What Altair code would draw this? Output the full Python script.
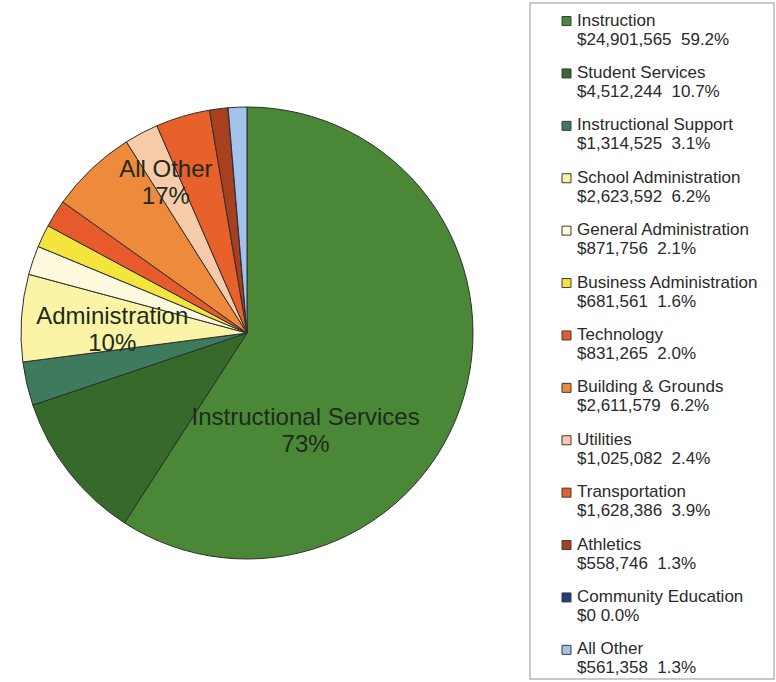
import math
import altair as alt
import pandas as pd

# ---------------- data ----------------
CATEGORIES = [
    "Instruction", "Student Services", "Instructional Support",
    "School Administration", "General Administration", "Business Administration",
    "Technology", "Building & Grounds", "Utilities", "Transportation",
    "Athletics", "Community Education", "All Other",
]
AMOUNTS = [24901565, 4512244, 1314525, 2623592, 871756, 681561,
           831265, 2611579, 1025082, 1628386, 558746, 0, 561358]
PERCENTS = [59.2, 10.7, 3.1, 6.2, 2.1, 1.6, 2.0, 6.2, 2.4, 3.9, 1.3, 0.0, 1.3]
COLORS = ["#4a8838", "#356a2b", "#3e7a5c", "#fbf4a6", "#fdf9dc", "#f3e43e",
          "#e65a2c", "#ee8a3c", "#f7cba9", "#e8602a", "#a8401f", "#233d80", "#a3c2ec"]

GROUP_NAMES = ["Instructional Services", "Administration", "All Other"]
GROUP_PERCENTS = [73, 10, 17]
GROUP_SIZES = [3, 3, 7]

# ---------------- layout ----------------
W, H = 776, 682
CX, CY, R = 247, 333, 226
LABEL_RADIUS = [114, 137, 172]
LABEL_SHIFT = [(-27, 10), (0, 9), (7, -15)]
FONT = "Liberation Sans"
# square symbol shifted down so it sits beside the first label line
SYMBOL_PATH = "M-1,0.9H1V2.9H-1Z"


def legend_label(cat, amt, pct):
    gap = " " if amt == 0 else "\u00a0 "
    return f"{cat}|${amt:,}{gap}{pct:.1f}%"


labels = [legend_label(c, a, p) for c, a, p in zip(CATEGORIES, AMOUNTS, PERCENTS)]
df = pd.DataFrame({
    "idx": list(range(len(CATEGORIES))),
    "category": labels,
    "amount": AMOUNTS,
})

# group label positions derived from the slice amounts
total = float(sum(AMOUNTS))
rows = []
start = 0
cum = 0.0
for g, (name, gp, size) in enumerate(zip(GROUP_NAMES, GROUP_PERCENTS, GROUP_SIZES)):
    amt = sum(AMOUNTS[start:start + size])
    mid = (cum + amt / 2) / total * 2 * math.pi
    cum += amt
    start += size
    r = LABEL_RADIUS[g]
    dx, dy = LABEL_SHIFT[g]
    rows.append({
        "text": f"{name}|{gp}%",
        "lx": CX + r * math.sin(mid) + dx,
        "ly": CY - r * math.cos(mid) + dy,
    })
gdf = pd.DataFrame(rows)

frame = alt.Chart(pd.DataFrame({"a": [0]})).mark_rect(
    fill="white", stroke="#b8b8b8", strokeWidth=1.5
).encode(
    x=alt.value(530), x2=alt.value(774), y=alt.value(3), y2=alt.value(679)
)

pie = alt.Chart(df).mark_arc(radius=R, stroke="#2e2e2e", strokeWidth=1).encode(
    theta=alt.Theta("amount:Q", stack=True),
    order=alt.Order("idx:Q", sort="ascending"),
    fill=alt.Fill(
        "category:N",
        scale=alt.Scale(domain=labels, range=COLORS),
        sort=labels,
        legend=alt.Legend(
            title=None,
            orient="none",
            legendX=558,
            legendY=4,
            padding=0,
            symbolType=SYMBOL_PATH,
            symbolSize=81,
            symbolStrokeColor="#3a3a3a",
            symbolStrokeWidth=1,
            labelExpr="split(datum.label, '|')",
            labelFont=FONT,
            labelFontSize=17,
            labelColor="#2a2a2a",
            labelBaseline="top",
            labelLimit=0,
            labelOffset=2,
            rowPadding=8.4,
        ),
    ),
    x=alt.value(CX),
    y=alt.value(CY),
)

group_labels = alt.Chart(gdf).mark_text(
    font=FONT, fontSize=24, color="#1e2a1a", lineBreak="|", lineHeight=27,
    align="center", baseline="middle",
).encode(
    x=alt.X("lx:Q", scale=None, axis=None),
    y=alt.Y("ly:Q", scale=None, axis=None),
    text="text:N",
)

chart = alt.layer(frame, pie, group_labels).properties(
    width=W, height=H, padding=0, autosize="none"
).configure_view(stroke=None)

chart.save("out.html", embed_options={"renderer": "svg", "actions": False})
